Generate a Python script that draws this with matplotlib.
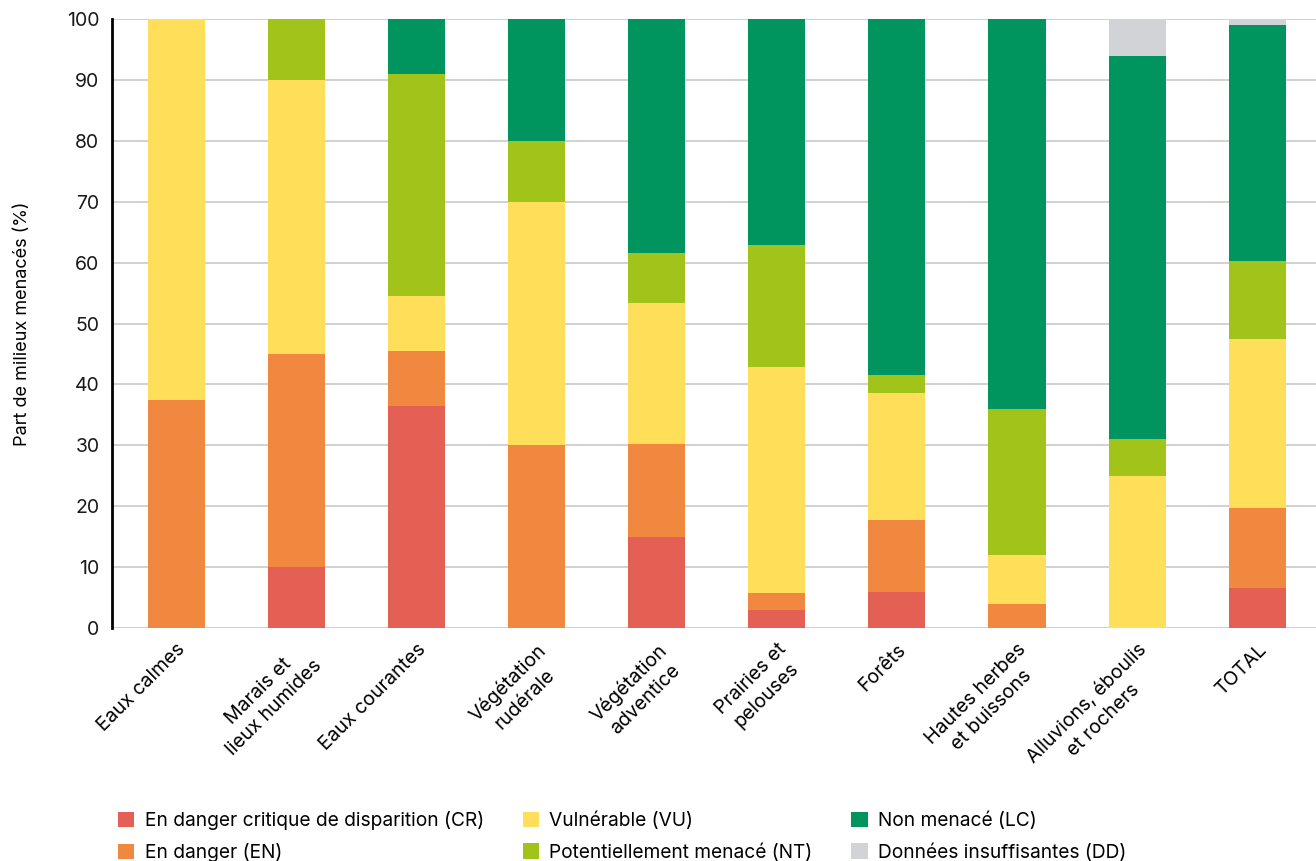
import numpy as np
import matplotlib.pyplot as plt

plt.rcParams['font.family'] = ['Inter', 'DejaVu Sans']

categories = ['Eaux calmes', 'Marais et\nlieux humides', 'Eaux courantes',
              'Végétation\nrudérale', 'Végétation\nadventice', 'Prairies et\npelouses',
              'Forêts', 'Hautes herbes\net buissons', 'Alluvions, éboulis\net rochers',
              'TOTAL']

# parts en % par statut
cr = [0, 10, 36.4, 0, 15.0, 2.9, 5.9, 0, 0, 6.6]
en = [37.5, 35, 9.1, 30, 15.2, 2.9, 11.8, 4, 0, 13.1]
vu = [62.5, 45, 9.1, 40, 23.2, 37.1, 20.9, 8, 25, 27.8]
nt = [0, 10, 36.4, 10, 8.2, 20.0, 2.9, 24, 6, 12.8]
lc = [0, 0, 9.0, 20, 38.4, 37.1, 58.5, 64, 63, 38.7]
dd = [0, 0, 0, 0, 0, 0, 0, 0, 6, 1.0]

series = [cr, en, vu, nt, lc, dd]
labels = ['En danger critique de disparition (CR)', 'En danger (EN)',
          'Vulnérable (VU)', 'Potentiellement menacé (NT)',
          'Non menacé (LC)', 'Données insuffisantes (DD)']
colors = ['#E46055', '#F08840', '#FFDF5A', '#A2C41A', '#00945E', '#D2D3D7']

fig = plt.figure(figsize=(13.16, 8.61), dpi=100)
ax = fig.add_axes([0.0851, 0.2706, 0.9149, 0.7073])

x = np.arange(len(categories))
bottom = np.zeros(len(categories))
handles = []
for vals, lab, col in zip(series, labels, colors):
    b = ax.bar(x, vals, 0.475, bottom=bottom, color=col, label=lab, zorder=2)
    handles.append(b)
    bottom = bottom + np.array(vals)

ax.set_ylim(0, 100)
ax.set_xlim(-0.537, 9.49)
ax.set_yticks(range(0, 101, 10))
ax.yaxis.grid(True, color='#CCC9C6', linewidth=1.2, zorder=0)
ax.set_axisbelow(True)
for s in ['top', 'right', 'bottom']:
    ax.spines[s].set_visible(False)
ax.spines['left'].set_linewidth(2)
ax.spines['left'].set_color('black')
ax.spines['left'].set_zorder(3)
ax.tick_params(axis='y', length=0, pad=9, labelsize=14, colors='#1a1a1a')
ax.tick_params(axis='x', length=0, pad=9)

ax.set_xticks(x)
ax.set_xticklabels(categories, rotation=45, ha='right', va='top',
                   rotation_mode='anchor', multialignment='center', fontsize=14,
                   linespacing=1.35)

ax.set_ylabel('Part de milieux menacés (%)', fontsize=13, labelpad=26)

fig.legend(handles, labels,
           loc='upper left', bbox_to_anchor=(0.0837, 0.067), ncol=3, frameon=False,
           fontsize=13.8, handlelength=0.85, handleheight=0.85, handletextpad=0.55,
           columnspacing=2.02, labelspacing=0.68, borderaxespad=0)

plt.savefig('out.png', dpi=100)
